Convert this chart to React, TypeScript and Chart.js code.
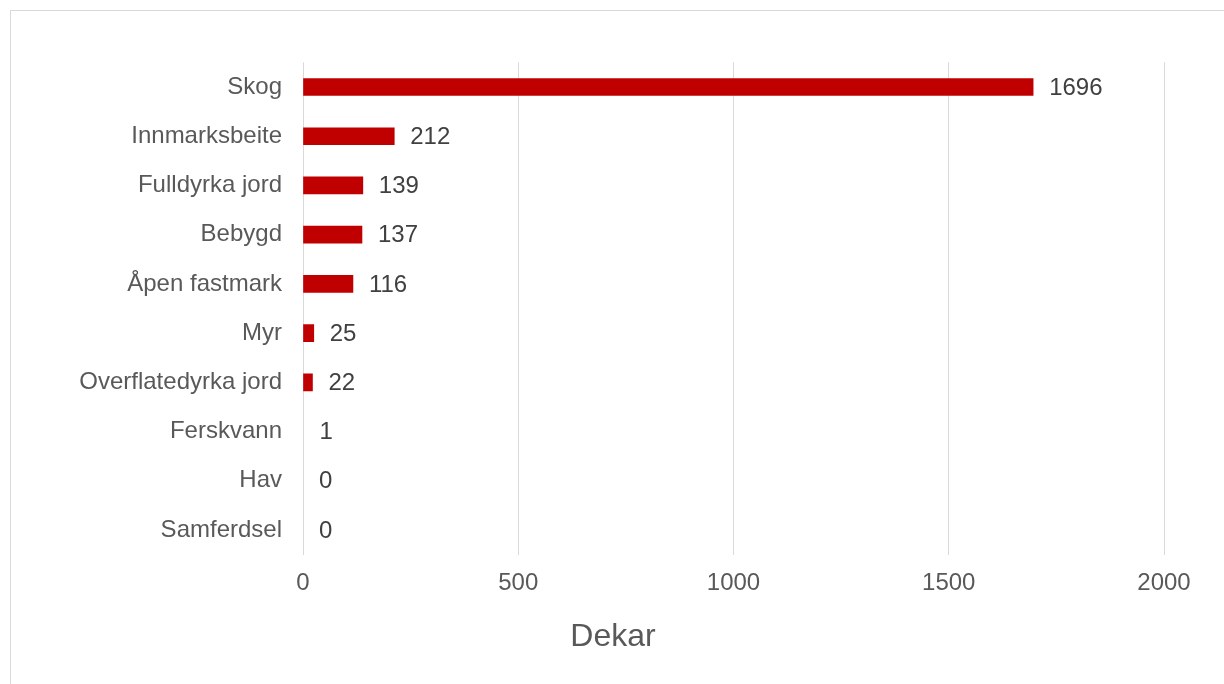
import React, { useEffect, useRef } from "react";
import { Chart, registerables } from "chart.js";

Chart.register(...registerables);

const categories = [
  "Skog",
  "Innmarksbeite",
  "Fulldyrka jord",
  "Bebygd",
  "Åpen fastmark",
  "Myr",
  "Overflatedyrka jord",
  "Ferskvann",
  "Hav",
  "Samferdsel",
];
const values = [1696, 212, 139, 137, 116, 25, 22, 1, 0, 0];
const axisTitle = "Dekar";
const xMin = 0;
const xMax = 2000;
const xStep = 500;

const FONT = "'Liberation Sans', Arial, sans-serif";

const dataLabelPlugin = {
  id: "dataLabels",
  afterDatasetsDraw(chart: any) {
    const ctx = chart.ctx;
    const meta = chart.getDatasetMeta(0);
    ctx.save();
    ctx.font = `24px ${FONT}`;
    ctx.fillStyle = "#404040";
    ctx.textAlign = "left";
    ctx.textBaseline = "middle";
    meta.data.forEach((bar: any, i: number) => {
      ctx.fillText(String(values[i]), bar.x + 16, bar.y + 1);
    });
    ctx.restore();
  },
};

const axisTitlePlugin = {
  id: "axisTitleCentered",
  afterDraw(chart: any) {
    const ctx = chart.ctx;
    const xScale = chart.scales.x;
    ctx.save();
    ctx.font = `32px ${FONT}`;
    ctx.fillStyle = "#595959";
    ctx.textAlign = "center";
    ctx.textBaseline = "middle";
    ctx.fillText(axisTitle, chart.width / 2 + 1, xScale.bottom + 19);
    ctx.restore();
  },
};

export default function App() {
  const ref = useRef<HTMLCanvasElement | null>(null);

  useEffect(() => {
    if (!ref.current) return;
    const chart = new Chart(ref.current, {
      type: "bar",
      data: {
        labels: categories,
        datasets: [
          {
            data: values,
            backgroundColor: (c: any) =>
              c.raw && c.raw >= 1.5 ? "#C00000" : "rgba(0,0,0,0)",
            borderWidth: 0,
            barThickness: 17,
          },
        ],
      },
      plugins: [dataLabelPlugin, axisTitlePlugin],
      options: {
        indexAxis: "y",
        responsive: false,
        animation: false,
        layout: { padding: { top: 62.4, right: 60, bottom: 65.4, left: 0 } },
        plugins: {
          legend: { display: false },
          tooltip: { enabled: false },
          title: { display: false },
        },
        scales: {
          x: {
            min: xMin,
            max: xMax,
            ticks: {
              stepSize: xStep,
              color: "#595959",
              font: { family: FONT, size: 24 },
              padding: 14,
              callback: (v: any) => String(v),
            },
            grid: { color: "#d9d9d9", lineWidth: 1, drawTicks: false },
            border: { display: false },
            afterFit(scale: any) {
              scale.height = 64;
            },
          },
          y: {
            ticks: {
              color: "#595959",
              font: { family: FONT, size: 24 },
              padding: 21,
            },
            grid: { display: false, drawTicks: false },
            border: { display: false },
            afterFit(scale: any) {
              scale.width = 303;
            },
          },
        },
      },
    });
    return () => chart.destroy();
  }, []);

  return (
    <div>
      <div
        style={{
          position: "fixed",
          left: 10,
          top: 10,
          width: 1300,
          height: 800,
          border: "1px solid #d9d9d9",
          background: "#fff",
        }}
      />
      <canvas
        ref={ref}
        width={1224}
        height={684}
        style={{ position: "fixed", left: 0, top: 0, width: 1224, height: 684 }}
      />
    </div>
  );
}
